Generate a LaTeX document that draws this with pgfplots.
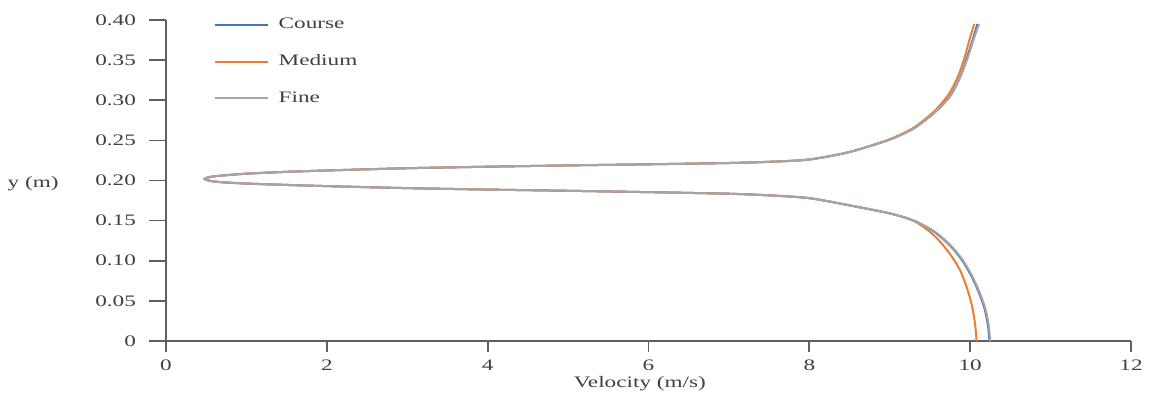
\documentclass[border=0pt]{standalone}
\usepackage{fontspec}
\setmainfont[FakeStretch=1.45]{Liberation Serif}
\usepackage{pgfplots}
\pgfplotsset{compat=1.18}
\definecolor{cblue}{HTML}{4472C4}
\definecolor{corange}{HTML}{ED7D31}
\definecolor{cgray}{HTML}{A5A5A5}
\definecolor{axgray}{HTML}{606060}
\definecolor{txtgray}{HTML}{404040}
\newcommand{\fs}{\fontsize{8}{9.6}\selectfont}
\begin{document}
\begin{tikzpicture}
\begin{axis}[
  name=ax,
  scale only axis,
  width=482.5pt, height=160.5pt,
  xmin=0, xmax=12, ymin=0, ymax=0.4,
  axis lines=left,
  axis line style={-, draw=axgray, line width=0.8pt},
  tick align=outside,
  tick style={draw=axgray, line width=0.9pt},
  major tick length=5.5pt,
  xtick={0,2,4,6,8,10,12},
  ytick=\empty,
  extra y ticks={0,0.05,0.10,0.15,0.20,0.25,0.30,0.35,0.40},
  extra y tick labels={0,0.05,0.10,0.15,0.20,0.25,0.30,0.35,0.40},
  extra y tick style={major tick length=8.5pt, tick style={draw=axgray, line width=0.8pt}, yticklabel style={xshift=-3pt}},
  /pgf/number format/assume math mode=true,
  ticklabel style={font=\fs, text=txtgray},
  xticklabel style={yshift=-0.5pt},
  xlabel={Velocity (m/s)},
  xlabel style={font=\fs, text=txtgray, at={(axis description cs:0.491,0)}, anchor=center, yshift=-21.5pt},
  ylabel={y (m)},
  ylabel style={font=\fs, text=txtgray, rotate=-90, at={(axis description cs:-0.104,0.49)}, anchor=east},
  legend cell align=left,
  legend style={draw=none, fill=none, font=\fs, text=txtgray, at={(axis description cs:0.049,1.02)}, anchor=north west, row sep=7.5pt, column sep=3pt, inner sep=0pt},
  legend image code/.code={\draw[#1] (0pt,0pt) -- (26.5pt,0pt);},
  every axis plot/.append style={line width=1pt, smooth, tension=0.45},
]
\addplot[cblue] coordinates {
(10.24,0) (10.22,0.020) (10.18,0.040) (10.11,0.060) (10.01,0.082) (9.89,0.102) (9.74,0.120) (9.54,0.137) (9.30,0.150) (9.00,0.159) (8.50,0.1690) (8.00,0.1780) (7.50,0.1815) (7.00,0.1835) (6.00,0.1855) (5.00,0.1872) (4.00,0.1887) (3.00,0.1905) (2.00,0.1930) (1.50,0.1945) (1.00,0.1962) (0.70,0.1978) (0.55,0.1995) (0.48,0.2020) (0.55,0.2045) (0.70,0.2062) (1.00,0.2085) (1.50,0.2108) (2.00,0.2125) (3.00,0.2153) (4.00,0.2172) (5.00,0.2188) (6.00,0.2202) (7.00,0.2218) (7.50,0.2233) (8.00,0.2262) (8.50,0.2355) (9.00,0.2510) (9.30,0.2650) (9.55,0.2840) (9.75,0.3050) (9.88,0.3300) (9.96,0.3530) (10.03,0.3750) (10.09,0.3950)
};
\addlegendentry{Course}
\addplot[corange] coordinates {
(10.08,0) (10.06,0.022) (10.02,0.045) (9.96,0.066) (9.88,0.087) (9.78,0.104) (9.65,0.121) (9.50,0.136) (9.30,0.1495) (9.00,0.159) (8.50,0.1690) (8.00,0.1780) (7.50,0.1815) (7.00,0.1835) (6.00,0.1855) (5.00,0.1872) (4.00,0.1887) (3.00,0.1905) (2.00,0.1930) (1.50,0.1945) (1.00,0.1962) (0.70,0.1978) (0.55,0.1995) (0.48,0.2020) (0.55,0.2045) (0.70,0.2062) (1.00,0.2085) (1.50,0.2108) (2.00,0.2125) (3.00,0.2153) (4.00,0.2172) (5.00,0.2188) (6.00,0.2202) (7.00,0.2218) (7.50,0.2233) (8.00,0.2262) (8.50,0.2355) (9.00,0.2515) (9.30,0.2660) (9.55,0.2860) (9.73,0.3070) (9.85,0.3300) (9.93,0.3530) (9.99,0.3750) (10.05,0.3950)
};
\addlegendentry{Medium}
\addplot[cgray] coordinates {
(10.25,0) (10.23,0.020) (10.19,0.040) (10.12,0.060) (10.02,0.082) (9.90,0.102) (9.75,0.120) (9.55,0.137) (9.30,0.150) (9.00,0.159) (8.50,0.1690) (8.00,0.1780) (7.50,0.1815) (7.00,0.1835) (6.00,0.1855) (5.00,0.1872) (4.00,0.1887) (3.00,0.1905) (2.00,0.1930) (1.50,0.1945) (1.00,0.1962) (0.70,0.1978) (0.55,0.1995) (0.48,0.2020) (0.55,0.2045) (0.70,0.2062) (1.00,0.2085) (1.50,0.2108) (2.00,0.2125) (3.00,0.2153) (4.00,0.2172) (5.00,0.2188) (6.00,0.2202) (7.00,0.2218) (7.50,0.2233) (8.00,0.2262) (8.50,0.2355) (9.00,0.2510) (9.30,0.2650) (9.55,0.2840) (9.75,0.3050) (9.88,0.3300) (9.97,0.3530) (10.04,0.3750) (10.11,0.3950)
};
\addlegendentry{Fine}
\end{axis}
\pgfresetboundingbox
\path ([shift={(-83pt,-28pt)}]ax.south west) rectangle ([shift={(9.5pt,10pt)}]ax.north east);
\end{tikzpicture}
\end{document}
